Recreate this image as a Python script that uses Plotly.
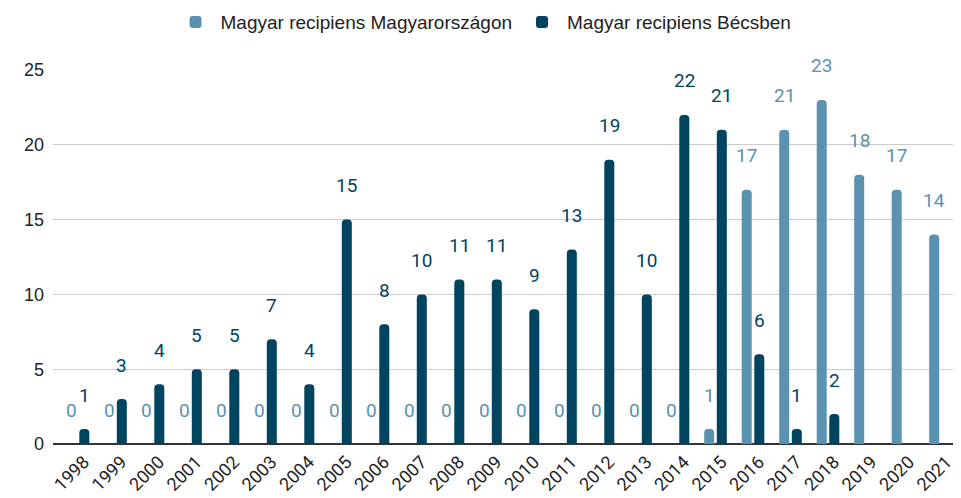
import plotly.graph_objects as go

years = ["1998", "1999", "2000", "2001", "2002", "2003", "2004", "2005", "2006", "2007",
         "2008", "2009", "2010", "2011", "2012", "2013", "2014", "2015", "2016", "2017",
         "2018", "2019", "2020", "2021"]
hungary = [0, 0, 0, 0, 0, 0, 0, 0, 0, 0, 0, 0, 0, 0, 0, 0, 0, 1, 17, 21, 23, 18, 17, 14]
vienna = [1, 3, 4, 5, 5, 7, 4, 15, 8, 10, 11, 11, 9, 13, 19, 10, 22, 21, 6, 1, 2, None, None, None]
series_names = ["Magyar recipiens Magyarországon", "Magyar recipiens Bécsben"]

LIGHT = "#5B92B0"
DARK = "#00445F"
xs = list(range(len(years)))
BW = 0.267
SHIFT = 0.168

fig = go.Figure()
fig.add_trace(go.Bar(x=xs, y=hungary, name=series_names[0], marker_color=LIGHT,
                     width=BW, offset=-SHIFT - BW / 2, marker_line_width=0))
fig.add_trace(go.Bar(x=xs, y=vienna, name=series_names[1], marker_color=DARK,
                     width=BW, offset=SHIFT - BW / 2, marker_line_width=0))

annotations = []
for vals, sgn, col in [(hungary, -1, LIGHT), (vienna, 1, DARK)]:
    for x, v in zip(xs, vals):
        if v is None:
            continue
        annotations.append(dict(x=x + sgn * SHIFT, y=v, xref="x", yref="y", text=str(v),
                                showarrow=False, yshift=34, yanchor="middle",
                                font=dict(family="Roboto", size=19, color=col)))

# page body has an 8px default margin, so the figure is sized to fit the window
fig.update_layout(
    width=953, height=490,
    margin=dict(l=45, r=1, t=62, b=54, autoexpand=False),
    plot_bgcolor="white", paper_bgcolor="white",
    barmode="overlay",
    barcornerradius=4,
    annotations=annotations,
    showlegend=True,
    legend=dict(orientation="h", xref="container", yref="container", x=0.499, xanchor="center",
                y=0.971, yanchor="middle", font=dict(family="Liberation Sans, Arial", size=19, color="#222"),
                itemwidth=40, traceorder="normal", tracegroupgap=0),
    xaxis=dict(range=[-0.667, 23.52], tickmode="array", tickvals=xs, ticktext=years,
               tickangle=-45, showgrid=False, ticks="", showline=False, zeroline=False,
               automargin=False, ticklabelshift=6, ticklabelstandoff=3,
               tickfont=dict(family="Roboto", size=18, color="#222")),
    yaxis=dict(range=[0, 25], tickvals=[0, 5, 10, 15, 20, 25], showgrid=True, gridcolor="#cccccc",
               gridwidth=1, zeroline=True, zerolinecolor="#333333", zerolinewidth=2,
               ticks="", ticklabelstandoff=8, automargin=False,
               tickfont=dict(family="Liberation Sans, Arial", size=18, color="#222")),
)
fig.write_html("out.html")
